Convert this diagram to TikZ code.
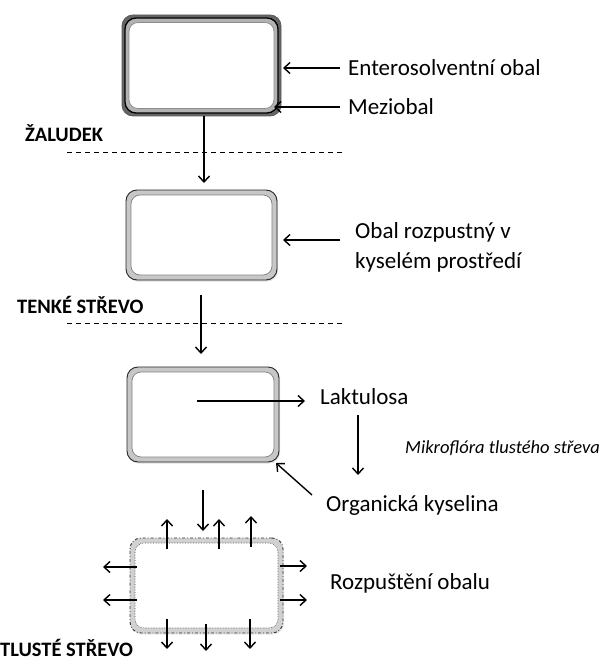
\documentclass[tikz,border=0pt]{standalone}
\usepackage{fontspec}
\setmainfont{Carlito}
\usetikzlibrary{arrows.meta,shadows}
\begin{document}
\begin{tikzpicture}[x=1pt,y=-1pt,
  lbl/.style={anchor=west,inner sep=0pt,font=\fontsize{23}{28}\selectfont},
  zone/.style={anchor=west,inner sep=0pt,font=\fontsize{20.5}{24}\selectfont\bfseries},
  arr/.style={line width=1.4pt,-{Straight Barb[length=6pt,width=11pt]}},
  sep/.style={line width=1pt,dash pattern=on 5pt off 4pt},
  rbox/.style={rectangle,rounded corners=11pt,inner sep=0pt},
]
\useasboundingbox (0,0) rectangle (605,666);
% ---- box 1
\node[rbox,minimum width=159pt,minimum height=101pt,fill=black!60,draw=black!65,line width=0.8pt] (b1o) at (201.5,65.5) {};
\node[rbox,minimum width=153pt,minimum height=95pt,fill=black!30,draw=black,line width=1.3pt] (b1m) at (201.5,65.5) {};
\node[rbox,rounded corners=9pt,minimum width=145pt,minimum height=86pt,fill=white,draw=black!45,line width=0.7pt] (b1) at (201.5,65.5) {};
% ---- box 2
\node[rbox,minimum width=151pt,minimum height=90pt,fill=black!22,draw=black!85,line width=0.9pt,drop shadow={opacity=0.25,shadow xshift=1pt,shadow yshift=-1.5pt}] (b2o) at (201.5,235) {};
\node[rbox,rounded corners=9pt,minimum width=141pt,minimum height=80pt,fill=white,draw=black!50,line width=0.7pt] (b2) at (201.5,235) {};
% ---- box 3
\node[rbox,minimum width=152pt,minimum height=95pt,fill=black!22,draw=black!85,line width=0.9pt,drop shadow={opacity=0.25,shadow xshift=1pt,shadow yshift=-1.5pt}] (b3o) at (203,414.5) {};
\node[rbox,rounded corners=9pt,minimum width=142pt,minimum height=85pt,fill=white,draw=black!50,line width=0.7pt] (b3) at (203,414.5) {};
% ---- box 4
\node[rbox,minimum width=153pt,minimum height=95pt,fill=black!18,draw=black!80,line width=0.9pt,dash dot,drop shadow={opacity=0.2,shadow xshift=1pt,shadow yshift=-1.5pt}] (b4o) at (206.5,585.5) {};
\node[rbox,rounded corners=9pt,minimum width=143pt,minimum height=85pt,fill=white,draw=black!70,line width=0.6pt,densely dotted] (b4) at (206.5,585.5) {};

% ---- labels
\node[lbl] (t1) at (348,68) {Enterosolventní obal};
\node[lbl] (t2) at (348,107) {Meziobal};
\node[zone] (z1) at (25,133) {ŽALUDEK};
\node[lbl,align=left,font=\fontsize{23}{30}\selectfont] (t3) at (355,247) {Obal rozpustný v\\kyselém prostředí};
\node[zone] (z2) at (17,305) {TENKÉ STŘEVO};
\node[lbl] (t4) at (320,397) {Laktulosa};
\node[lbl,font=\fontsize{18.5}{22}\selectfont\itshape] (t5) at (405,448) {Mikroflóra tlustého střeva};
\node[lbl] (t6) at (326,505) {Organická kyselina};
\node[lbl] (t7) at (330,583) {Rozpuštění obalu};
\node[zone] (z3) at (0,648) {TLUSTÉ STŘEVO};

% ---- separators
\coordinate (s1a) at (67,152); \coordinate (s1b) at (342,152);
\coordinate (s2a) at (67,323); \coordinate (s2b) at (342,323);
\draw[sep] (s1a) -- (s1b);
\draw[sep] (s2a) -- (s2b);

% ---- arrows
\coordinate (e1) at (340,68); \coordinate (e1t) at (283,68);
\draw[arr] (e1) -- (e1t);
\coordinate (m0) at (340,107); \coordinate (m1) at (274,107);
\draw[arr] (m0) -- (m1);
\coordinate (d1) at (204,183);
\draw[arr] (b1o.south -| d1) -- (d1);
\coordinate (r0) at (340,240); \coordinate (r1) at (283,240);
\draw[arr] (r0) -- (r1);
\coordinate (d2a) at (201,295); \coordinate (d2) at (201,354);
\draw[arr] (d2a) -- (d2);
\coordinate (c3) at (197,401); \coordinate (c3t) at (305,401);
\draw[arr] (c3) -- (c3t);
\coordinate (k1) at (358,415); \coordinate (k2) at (358,475);
\draw[arr] (k1) -- (k2);
\coordinate (o1) at (312,495); \coordinate (o2) at (276,463);
\draw[arr] (o1) -- (o2);
\coordinate (d3a) at (203,490); \coordinate (d3) at (203,531);
\draw[arr] (d3a) -- (d3);
% release arrows
\foreach \x/\a/\b in {167/549/519, 219/549/519, 251/547/516}
  \draw[arr] (\x,\a) -- (\x,\b);
\foreach \x/\a/\b in {167/619/649, 206/624/651, 250/619/649}
  \draw[arr] (\x,\a) -- (\x,\b);
\foreach \y in {567,600}
  \draw[arr] (137,\y) -- (103,\y);
\foreach \y in {566,600}
  \draw[arr] (280,\y) -- (307,\y);
\end{tikzpicture}
\end{document}
